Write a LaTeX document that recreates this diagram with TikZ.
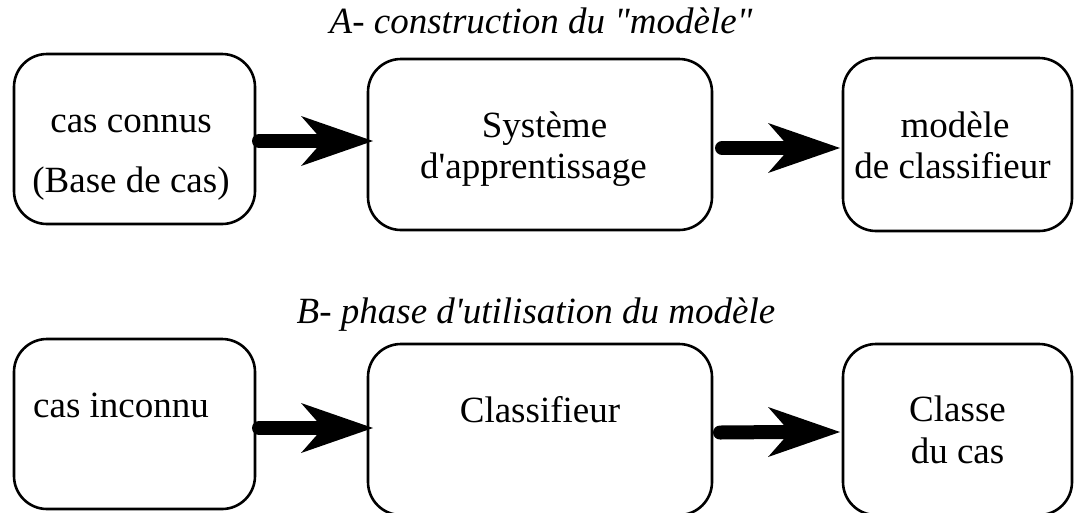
\documentclass[tikz,border=0pt]{standalone}
\usepackage{fontspec}
\setmainfont{Liberation Serif}[Ligatures=TeXOff]
\usetikzlibrary{calc}
\tikzset{
  box/.style={draw, line width=2.6pt, rounded corners=33pt, inner sep=0pt, outer sep=0pt},
  lbl/.style={inner sep=0pt, font=\fontsize{37}{44}\selectfont},
  ttl/.style={inner sep=0pt, font=\fontsize{37}{44}\selectfont\itshape},
  shaft/.style={line width=14pt, line cap=round},
}
\newcommand{\bigarrow}[2]{%
  \draw[shaft] (#1) -- ($(#2)+(-55,0)$);
  \fill (#2) -- ++(-72,25) -- ++(22,-25) -- ++(-22,-25) -- cycle;}
\begin{document}
\begin{tikzpicture}[x=1pt,y=-1pt]
\useasboundingbox (0,0) rectangle (1075,512);
\clip (0,0) rectangle (1075,512);
% titles
\node[ttl, anchor=base] (tA) at (541,33) {A- construction du "modèle"};
\node[ttl, anchor=base] (tB) at (536,323) {B- phase d'utilisation du modèle};
% top row boxes
\node[box, minimum width=241pt, minimum height=170pt] (b1) at (134.5,139) {};
\node[box, minimum width=344pt, minimum height=171pt] (b2) at (540,144.5) {};
\node[box, minimum width=229pt, minimum height=173pt] (b3) at (957.5,144.5) {};
% bottom row boxes
\node[box, minimum width=241pt, minimum height=170pt] (c1) at (134.5,424) {};
\node[box, minimum width=344pt, minimum height=171pt] (c2) at (540,429.5) {};
\node[box, minimum width=229pt, minimum height=171pt] (c3) at (957.5,429.5) {};
% texts
\node[lbl, anchor=base] (b1t1) at (131,132) {cas connus};
\node[lbl, anchor=base] (b1t2) at (131,192) {(Base de cas)};
\node[lbl, anchor=base] (b2t1) at (544.5,137) {Système};
\node[lbl, anchor=base] (b2t2) at (533.5,178) {d'apprentissage};
\node[lbl, anchor=base] (b3t1) at (955,137) {modèle};
\node[lbl, anchor=base] (b3t2) at (952.5,178) {de classifieur};
\node[lbl, anchor=base west] (c1t1) at (33,417) {cas inconnu};
\node[lbl, anchor=base] (c2t1) at (540,422) {Classifieur};
\node[lbl, anchor=base] (c3t1) at (957.5,421) {Classe};
\node[lbl, anchor=base] (c3t2) at (957.5,463) {du cas};
% arrows
\coordinate (a1s) at ($(b1.east)+(4,2)$);
\coordinate (a1e) at ($(b2.west)+(5,-3.5)$);
\coordinate (a2s) at ($(b2.east)+(10,3.5)$);
\coordinate (a2e) at ($(b3.west)+(-3,3.5)$);
\coordinate (a3s) at ($(c1.east)+(4,4)$);
\coordinate (a3e) at ($(c2.west)+(5,-1.5)$);
\coordinate (a4s) at ($(c2.east)+(8,3)$);
\coordinate (a4e) at ($(c3.west)+(-3,2.5)$);
\bigarrow{a1s}{a1e}
\bigarrow{a2s}{a2e}
\bigarrow{a3s}{a3e}
\bigarrow{a4s}{a4e}
\end{tikzpicture}
\end{document}
